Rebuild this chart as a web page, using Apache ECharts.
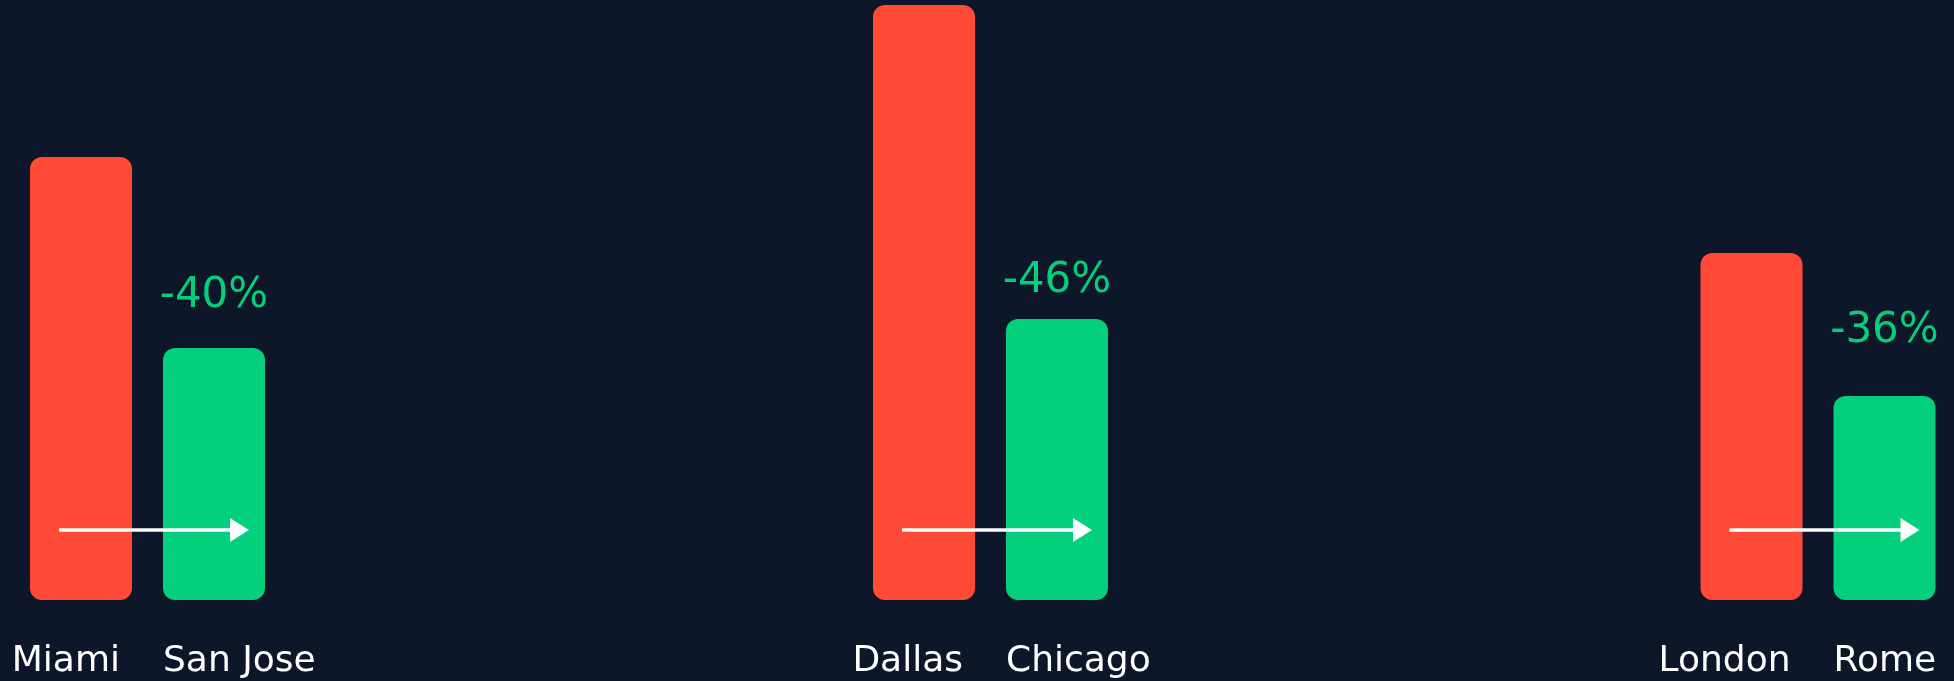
<!DOCTYPE html>
<html>
<head>
<meta charset="utf-8">
<script src="https://cdn.jsdelivr.net/npm/echarts@6/dist/echarts.min.js"></script>
<style>
  html, body { margin: 0; padding: 0; background: #0e1629; }
  #chart { width: 1954px; height: 681px; }
</style>
</head>
<body>
<div id="chart"></div>
<script>
// ---- data ----
const fromCities = ['Miami', 'Dallas', 'London'];
const toCities = ['San Jose', 'Chicago', 'Rome'];
const fromValues = [443, 595, 347];
const toValues = [252, 281, 204];
const changeLabels = ['-40%', '-46%', '-36%'];
const arrowLevel = 70;

// ---- layout / style ----
const RED = '#ff4b35';
const GREEN = '#03cf7c';
const BG = '#0e1629';
const gridLefts = [14.5, 857.5, 1685];
const labelGaps = [31, 17, 44];
const FONT = 'DejaVu Sans';

const chart = echarts.init(document.getElementById('chart'));

const grids = [], xAxes = [], yAxes = [], series = [];
for (let g = 0; g < 3; g++) {
  grids.push({ left: gridLefts[g], width: 266, top: 0, bottom: 81, containLabel: false });
  xAxes.push({
    type: 'category', gridIndex: g,
    data: [fromCities[g], toCities[g]],
    axisLine: { show: false }, axisTick: { show: false },
    axisLabel: {
      interval: 0, margin: 44, hideOverlap: false,
      formatter: (v, i) => (i === 0 ? '{r|' + v + '}' : '{g|' + v + '}'),
      rich: {
        r: { width: 78, align: 'right', color: '#ffffff', fontFamily: FONT, fontSize: 36, lineHeight: 36 },
        g: { width: 102, align: 'left', color: '#ffffff', fontFamily: FONT, fontSize: 36, lineHeight: 36 }
      }
    }
  });
  yAxes.push({
    type: 'value', gridIndex: g, min: 0, max: 600,
    show: false, splitLine: { show: false }
  });
  series.push({
    type: 'bar', xAxisIndex: g, yAxisIndex: g, barWidth: 102,
    itemStyle: { borderRadius: 12 },
    data: [
      { value: fromValues[g], itemStyle: { color: RED } },
      {
        value: toValues[g], itemStyle: { color: GREEN },
        label: {
          show: true, position: 'top', distance: labelGaps[g],
          formatter: changeLabels[g], color: GREEN,
          fontFamily: FONT, fontSize: 42, lineHeight: 42
        }
      }
    ]
  });
  series.push({
    type: 'custom', xAxisIndex: g, yAxisIndex: g, z: 10,
    data: [[0, arrowLevel]],
    renderItem: (params, api) => {
      const p0 = api.coord([0, api.value(1)]);
      const p1 = api.coord([1, api.value(1)]);
      const bw = api.size([1, 0])[0];
      const x0 = p0[0] - bw * 0.165;
      const x1 = p1[0] + bw * 0.263;
      const y = p0[1];
      return {
        type: 'group',
        children: [
          { type: 'line', shape: { x1: x0, y1: y, x2: x1 - 16, y2: y }, style: { stroke: '#ffffff', lineWidth: 3.5 } },
          { type: 'polygon', shape: { points: [[x1, y], [x1 - 19, y - 12], [x1 - 19, y + 12]] }, style: { fill: '#ffffff' } }
        ]
      };
    }
  });
}

chart.setOption({
  backgroundColor: BG,
  animation: false,
  grid: grids,
  xAxis: xAxes,
  yAxis: yAxes,
  series: series
});
</script>
</body>
</html>
